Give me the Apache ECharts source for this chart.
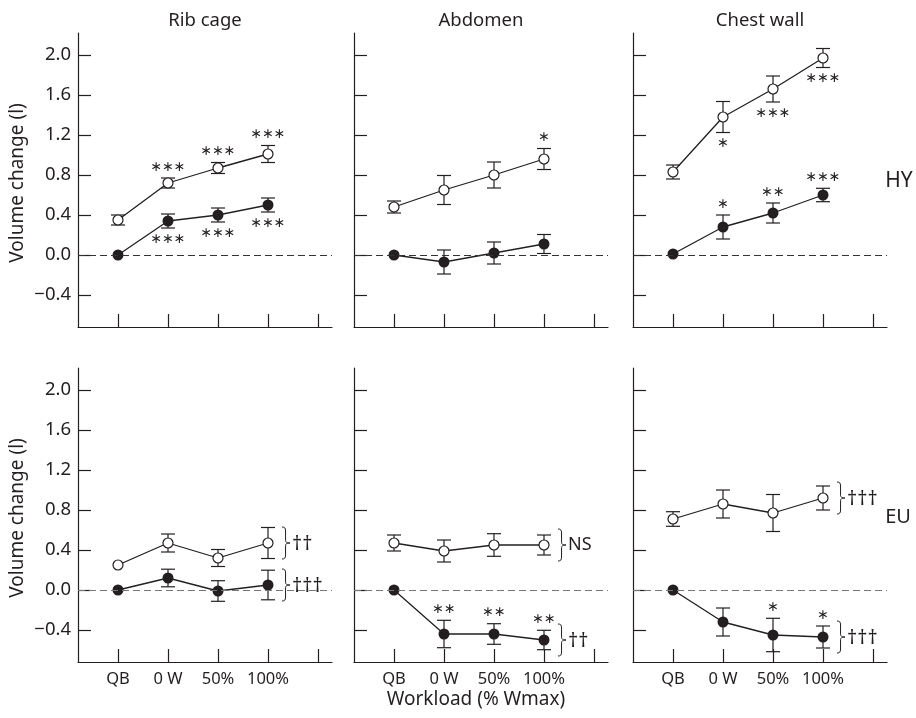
<!DOCTYPE html>
<html><head><meta charset="utf-8">
<script src="https://cdn.jsdelivr.net/npm/echarts@6/dist/echarts.min.js"></script>
<style>html,body{margin:0;padding:0;background:#fff}#c{width:916px;height:718px}</style>
</head><body><div id="c"></div>
<script>
// ---------- data ----------
const categories = ['QB', '0 W', '50%', '100%'];
const panelTitles = ['Rib cage', 'Abdomen', 'Chest wall'];
const rowLabels = ['HY', 'EU'];
const yTicks = [-0.4, 0, 0.4, 0.8, 1.2, 1.6, 2.0];
const xAxisTitle = 'Workload (% Wmax)';
const yAxisTitle = 'Volume change (l)';

// HY row: open circles (upper line) and filled circles (lower line), mean and SE
const ribHY_open = [0.35, 0.72, 0.87, 1.01];
const ribHY_openSE = [0.05, 0.05, 0.055, 0.085];
const ribHY_filled = [0, 0.34, 0.40, 0.50];
const ribHY_filledSE = [0, 0.07, 0.07, 0.07];
const abdHY_open = [0.48, 0.65, 0.80, 0.96];
const abdHY_openSE = [0.06, 0.145, 0.13, 0.105];
const abdHY_filled = [0, -0.07, 0.02, 0.11];
const abdHY_filledSE = [0, 0.12, 0.11, 0.095];
const cwHY_open = [0.83, 1.38, 1.66, 1.97];
const cwHY_openSE = [0.07, 0.155, 0.13, 0.095];
const cwHY_filled = [0.01, 0.28, 0.42, 0.60];
const cwHY_filledSE = [0, 0.12, 0.10, 0.067];

// EU row
const ribEU_open = [0.25, 0.47, 0.32, 0.47];
const ribEU_openSE = [0, 0.09, 0.085, 0.155];
const ribEU_filled = [0, 0.12, -0.01, 0.05];
const ribEU_filledSE = [0, 0.088, 0.103, 0.148];
const abdEU_open = [0.47, 0.39, 0.45, 0.45];
const abdEU_openSE = [0.08, 0.11, 0.113, 0.10];
const abdEU_filled = [0, -0.44, -0.44, -0.50];
const abdEU_filledSE = [0, 0.137, 0.103, 0.097];
const cwEU_open = [0.71, 0.86, 0.77, 0.92];
const cwEU_openSE = [0.073, 0.14, 0.185, 0.12];
const cwEU_filled = [0, -0.32, -0.45, -0.47];
const cwEU_filledSE = [0, 0.14, 0.167, 0.11];

// significance marks vs QB
const ribHY_openSig = ['', '***', '***', '***'];
const ribHY_filledSig = ['', '***', '***', '***'];
const abdHY_openSig = ['', '', '', '*'];
const abdHY_filledSig = ['', '', '', ''];
const cwHY_openSig = ['', '*', '***', '***'];
const cwHY_filledSig = ['', '*', '**', '***'];
const ribEU_openSig = ['', '', '', ''];
const ribEU_filledSig = ['', '', '', ''];
const abdEU_openSig = ['', '', '', ''];
const abdEU_filledSig = ['', '**', '**', '**'];
const cwEU_openSig = ['', '', '', ''];
const cwEU_filledSig = ['', '', '*', '*'];

// trend marks (bracketed)
const ribEU_openTrend = '††';
const ribEU_filledTrend = '†††';
const abdEU_openTrend = 'NS';
const abdEU_filledTrend = '††';
const cwEU_openTrend = '†††';
const cwEU_filledTrend = '†††';

// ---------- layout ----------
const INK = '#231f20';
const FONT = '"Noto Sans", sans-serif';
const gridLeft = [78, 354, 633];
const gridTop = [33, 368];
const GW = 254, GH = 294;

const panels = [
  {row:0,col:0,open:ribHY_open,openSE:ribHY_openSE,filled:ribHY_filled,filledSE:ribHY_filledSE,openSig:ribHY_openSig,openSide:-1,filledSig:ribHY_filledSig,filledSide:1},
  {row:0,col:1,open:abdHY_open,openSE:abdHY_openSE,filled:abdHY_filled,filledSE:abdHY_filledSE,openSig:abdHY_openSig,openSide:-1,filledSig:abdHY_filledSig,filledSide:1},
  {row:0,col:2,open:cwHY_open,openSE:cwHY_openSE,filled:cwHY_filled,filledSE:cwHY_filledSE,openSig:cwHY_openSig,openSide:1,filledSig:cwHY_filledSig,filledSide:-1},
  {row:1,col:0,open:ribEU_open,openSE:ribEU_openSE,filled:ribEU_filled,filledSE:ribEU_filledSE,openSig:ribEU_openSig,openSide:-1,filledSig:ribEU_filledSig,filledSide:-1,openTrend:ribEU_openTrend,filledTrend:ribEU_filledTrend},
  {row:1,col:1,open:abdEU_open,openSE:abdEU_openSE,filled:abdEU_filled,filledSE:abdEU_filledSE,openSig:abdEU_openSig,openSide:-1,filledSig:abdEU_filledSig,filledSide:-1,openTrend:abdEU_openTrend,filledTrend:abdEU_filledTrend},
  {row:1,col:2,open:cwEU_open,openSE:cwEU_openSE,filled:cwEU_filled,filledSE:cwEU_filledSE,openSig:cwEU_openSig,openSide:-1,filledSig:cwEU_filledSig,filledSide:-1,openTrend:cwEU_openTrend,filledTrend:cwEU_filledTrend}
];

function pts(vals, se) { return vals.map((v, i) => [i, v, se[i]]); }

function errRender(params, api) {
  const x = api.value(0), m = api.value(1), e = api.value(2);
  if (!(e > 0)) return null;
  const hi = api.coord([x, m + e]), lo = api.coord([x, m - e]);
  const hw = 7, st = {stroke: INK, lineWidth: 1.2};
  return {type: 'group', children: [
    {type: 'line', shape: {x1: hi[0], y1: hi[1], x2: lo[0], y2: lo[1]}, style: st},
    {type: 'line', shape: {x1: hi[0] - hw, y1: hi[1], x2: hi[0] + hw, y2: hi[1]}, style: st},
    {type: 'line', shape: {x1: lo[0] - hw, y1: lo[1], x2: lo[0] + hw, y2: lo[1]}, style: st}
  ]};
}

function sigRender(sig, side) {
  return function (params, api) {
    const s = sig[params.dataIndex];
    if (!s) return null;
    const x = api.value(0), m = api.value(1), e = api.value(2);
    const p = api.coord([x, m + (side < 0 ? e : -e)]);
    const y = p[1] + side * 11;
    return {type: 'text', x: p[0], y: y, style: {
      text: s.replace(/\*/g, '∗'), fill: INK, font: '14px "DejaVu Sans"',
      align: 'center', verticalAlign: 'middle', textAlign: 'center', textVerticalAlign: 'middle'}};
  };
}

function trendRender(label) {
  return function (params, api) {
    if (params.dataIndex !== 3 || !label) return null;
    const p = api.coord([api.value(0), api.value(1)]);
    const x0 = p[0] + 14;
    const isDagger = label.indexOf('†') >= 0;
    return {type: 'group', children: [
      {type: 'path', shape: {pathData: 'M0 0 C3 0 4 1 4 4 L4 13 C4 15 5 16 9 16 C5 16 4 17 4 19 L4 28 C4 31 3 32 0 32',
        x: x0, y: p[1] - 16, width: 8, height: 32, layout: 'cover'},
        style: {stroke: INK, lineWidth: 1, fill: null}},
      {type: 'text', x: x0 + 10, y: p[1] + (isDagger ? 1 : 0), style: {text: label, fill: INK,
        font: (isDagger ? '20px ' : '18px ') + FONT,
        align: 'left', verticalAlign: 'middle', textAlign: 'left', textVerticalAlign: 'middle'}}
    ]};
  };
}

const grid = [], xAxis = [], yAxis = [], series = [];
panels.forEach((pn, k) => {
  grid.push({left: gridLeft[pn.col], top: gridTop[pn.row], width: GW, height: GH});
  xAxis.push({type: 'value', gridIndex: k, min: -0.8, max: 4.28, splitLine: {show: false},
    axisLine: {onZero: false, lineStyle: {color: INK, width: 1.2}},
    axisTick: {inside: true, length: 13, customValues: [0, 1, 2, 3, 4], lineStyle: {color: INK, width: 1.2}},
    axisLabel: {show: pn.row === 1, customValues: [0, 1, 2, 3], margin: 9, color: INK,
      fontSize: 16.5, fontFamily: FONT, formatter: v => categories[Math.round(v)]}});
  yAxis.push({type: 'value', gridIndex: k, min: -0.72, max: 2.22, splitLine: {show: false},
    axisLine: {show: true, onZero: false, lineStyle: {color: INK, width: 1.2}},
    axisTick: {show: true, inside: true, length: 13, customValues: yTicks, lineStyle: {color: INK, width: 1.2}},
    axisLabel: {show: pn.col === 0, customValues: yTicks, margin: 7, color: INK, fontSize: 18.5, fontFamily: FONT,
      formatter: v => (v < 0 ? '−' : '') + Math.abs(v).toFixed(1)}});
  const openD = pts(pn.open, pn.openSE), filledD = pts(pn.filled, pn.filledSE);
  const base = {xAxisIndex: k, yAxisIndex: k, silent: true};
  series.push(Object.assign({type: 'custom', renderItem: errRender, data: openD, encode: {x: 0, y: 1}, z: 2}, base));
  series.push(Object.assign({type: 'custom', renderItem: errRender, data: filledD, encode: {x: 0, y: 1}, z: 2}, base));
  series.push(Object.assign({type: 'line', data: filledD.map(d => [d[0], d[1]]), symbol: 'circle', symbolSize: 11,
    itemStyle: {color: INK}, lineStyle: {color: INK, width: 1.3}, z: 3,
    markLine: {silent: true, symbol: 'none', label: {show: false},
      lineStyle: {type: [7, 4], color: pn.row === 0 ? '#333' : '#777', width: 1.1},
      data: [{yAxis: 0}]}}, base));
  series.push(Object.assign({type: 'line', data: openD.map(d => [d[0], d[1]]), symbol: 'circle', symbolSize: 10,
    itemStyle: {color: '#fff', borderColor: INK, borderWidth: 1.2}, lineStyle: {color: INK, width: 1.3}, z: 4}, base));
  series.push(Object.assign({type: 'custom', renderItem: sigRender(pn.openSig, pn.openSide), data: openD, encode: {x: 0, y: 1}, z: 5}, base));
  series.push(Object.assign({type: 'custom', renderItem: sigRender(pn.filledSig, pn.filledSide), data: filledD, encode: {x: 0, y: 1}, z: 5}, base));
  if (pn.openTrend) series.push(Object.assign({type: 'custom', renderItem: trendRender(pn.openTrend), data: openD, encode: {x: 0, y: 1}, z: 5}, base));
  if (pn.filledTrend) series.push(Object.assign({type: 'custom', renderItem: trendRender(pn.filledTrend), data: filledD, encode: {x: 0, y: 1}, z: 5}, base));
});

function txt(s, x, y, size, extra) {
  return Object.assign({type: 'text', x: x, y: y, silent: true, style: {text: s, fill: INK, font: size + 'px ' + FONT,
    align: 'center', verticalAlign: 'middle', textAlign: 'center', textVerticalAlign: 'middle'}}, extra || {});
}
const graphic = [];
panelTitles.forEach((t, i) => graphic.push(txt(t, gridLeft[i] + GW / 2, 21, 18.5)));
graphic.push(txt(rowLabels[0], 899, 181, 21));
graphic.push(txt(rowLabels[1], 898, 517, 20));
graphic.push(txt(yAxisTitle, 18, 183, 19, {rotation: Math.PI / 2}));
graphic.push(txt(yAxisTitle, 18, 518, 19, {rotation: Math.PI / 2}));
graphic.push(txt(xAxisTitle, gridLeft[1] + GW / 2 - 5, 700, 19));

const chart = echarts.init(document.getElementById('c'), null, {renderer: 'canvas'});
chart.setOption({animation: false, backgroundColor: '#fff', grid, xAxis, yAxis, series, graphic});
</script></body></html>
